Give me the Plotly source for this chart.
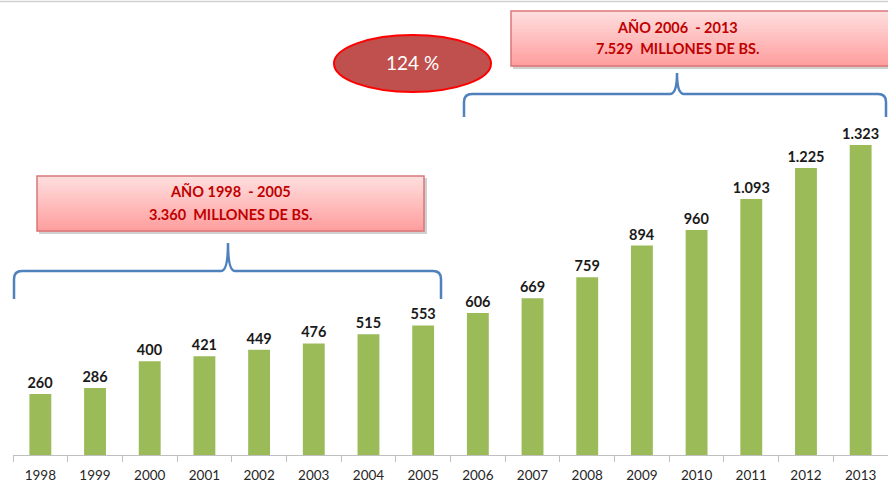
import plotly.graph_objects as go

years = ["1998", "1999", "2000", "2001", "2002", "2003", "2004", "2005",
         "2006", "2007", "2008", "2009", "2010", "2011", "2012", "2013"]
values = [260, 286, 400, 421, 449, 476, 515, 553,
          606, 669, 759, 894, 960, 1093, 1225, 1323]
box1_lines = ["AÑO 1998  - 2005", "3.360  MILLONES DE BS."]
box2_lines = ["AÑO 2006  - 2013", "7.529  MILLONES DE BS."]
growth_label = "124 %"

labels = [f"{v:,}".replace(",", ".") for v in values]

W_FIG, H_FIG = 888, 486
ML, MR, MT, MB = 13, 0, 0, 31
PW = W_FIG - ML - MR
PH = H_FIG - MT - MB


def px(x):
    return (x - ML) / PW


def py(y):
    return (MT + PH - y) / PH


fig = go.Figure()
fig.add_trace(go.Bar(
    x=years, y=values, width=0.4,
    marker=dict(color="#9bbb59", line=dict(width=0)),
    text=labels, textposition="outside", cliponaxis=False, constraintext="none",
    textfont=dict(family="Lato", size=14.5, color="#1a1a1a", weight="bold"),
    hoverinfo="skip",
))

shapes = []
annotations = []


def brace(x0, x1, xc, yb, yh, ytip, r=8, s=7):
    d = (f"M {px(x0)},{py(yb)} L {px(x0)},{py(yh + r)} "
         f"Q {px(x0)},{py(yh)} {px(x0 + r)},{py(yh)} "
         f"L {px(xc - s)},{py(yh)} Q {px(xc)},{py(yh)} {px(xc)},{py(ytip)} "
         f"Q {px(xc)},{py(yh)} {px(xc + s)},{py(yh)} "
         f"L {px(x1 - r)},{py(yh)} Q {px(x1)},{py(yh)} {px(x1)},{py(yh + r)} "
         f"L {px(x1)},{py(yb)}")
    return dict(type="path", xref="paper", yref="paper", path=d,
                line=dict(color="#4f81bd", width=2.5), layer="above")


shapes.append(brace(14, 441, 228, 299, 271, 243))
shapes.append(brace(464, 886, 677, 117, 94, 73))


def grad_box(x0, y0, x1, y1, n=24):
    out = []
    out.append(dict(type="rect", xref="paper", yref="paper",
                    x0=px(x0 + 2), x1=px(x1 + 3), y0=py(y1 + 3), y1=py(y0 + 2),
                    fillcolor="rgba(120,120,120,0.35)", line=dict(width=0)))
    top = (255, 222, 222)
    bot = (255, 158, 158)
    for i in range(n):
        t = i / (n - 1)
        c = tuple(int(round(top[k] + (bot[k] - top[k]) * t)) for k in range(3))
        ya = y0 + (y1 - y0) * i / n
        yb = y0 + (y1 - y0) * (i + 1) / n
        out.append(dict(type="rect", xref="paper", yref="paper",
                        x0=px(x0), x1=px(x1), y0=py(yb + 0.5), y1=py(ya),
                        fillcolor=f"rgb{c}", line=dict(width=0)))
    out.append(dict(type="rect", xref="paper", yref="paper",
                    x0=px(x0), x1=px(x1), y0=py(y1), y1=py(y0),
                    fillcolor="rgba(0,0,0,0)", line=dict(color="#d9777a", width=1.5)))
    return out


shapes += grad_box(37, 176, 424, 231)
shapes += grad_box(511, 11, 893, 66)

shapes.append(dict(type="circle", xref="paper", yref="paper",
                   x0=px(334), x1=px(491), y0=py(92), y1=py(35),
                   fillcolor="#c0504d", line=dict(color="#ff0000", width=2)))
shapes.append(dict(type="line", xref="paper", yref="paper",
                   x0=px(0), x1=px(888), y0=py(1.5), y1=py(1.5),
                   line=dict(color="#d0d0d0", width=1.5)))


def txt(x, y, s, size, color, bold=True):
    annotations.append(dict(xref="paper", yref="paper", x=px(x), y=py(y),
                            text=s, showarrow=False, xanchor="center", yanchor="middle",
                            font=dict(family="Lato", size=size, color=color,
                                      weight="bold" if bold else "normal")))


txt(230, 191, box1_lines[0], 14.5, "#c00000")
txt(230, 214, box1_lines[1], 14.5, "#c00000")
txt(677, 27, box2_lines[0], 14.5, "#c00000")
txt(677, 49, box2_lines[1], 14.5, "#c00000")
txt(412, 63, growth_label, 19, "#ffffff", bold=False)

fig.update_layout(
    width=W_FIG, height=H_FIG,
    margin=dict(l=ML, r=MR, t=MT, b=MB),
    paper_bgcolor="white", plot_bgcolor="white",
    showlegend=False, hovermode=False,
    shapes=shapes, annotations=annotations,
    xaxis=dict(type="category", range=[-0.5, 15.5], showgrid=False,
               showline=True, linecolor="#bfbfbf", linewidth=1,
               ticks="outside", tickson="boundaries", ticklen=6, tickcolor="#bfbfbf",
               ticklabelstandoff=8,
               tickfont=dict(family="Lato", size=13.5, color="#262626")),
    yaxis=dict(range=[0, 1942], visible=False, showgrid=False, zeroline=False),
)

fig.write_html("out.html", config={"displayModeBar": False},
               post_script="document.body.style.margin='0px';document.body.style.overflow='hidden';")
